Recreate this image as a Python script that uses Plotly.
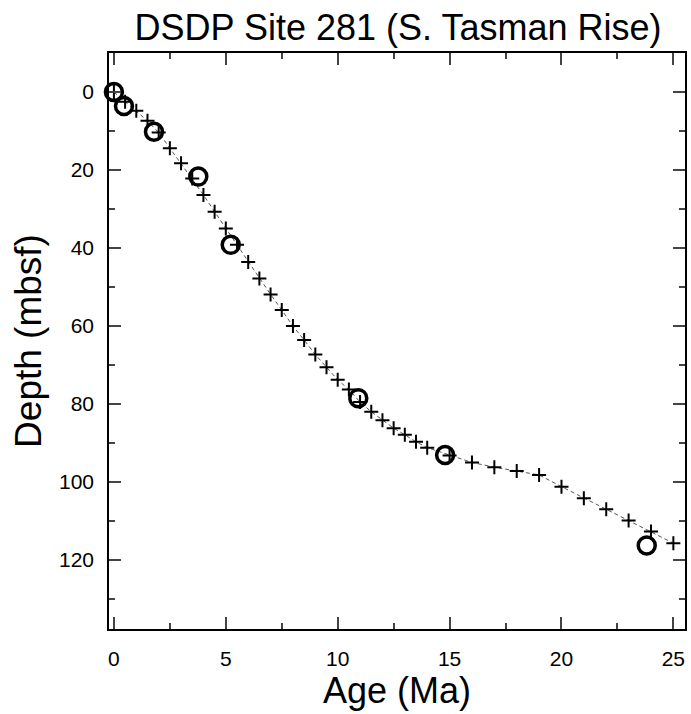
import plotly.graph_objects as go

# Age model points (plus markers) - Age (Ma) and Depth (mbsf)
model_age = [0, 0.5, 1, 1.5, 2, 2.5, 3, 3.5, 4, 4.5, 5, 5.5, 6, 6.5, 7, 7.5, 8, 8.5,
             9, 9.5, 10, 10.5, 11, 11.5, 12, 12.5, 13, 13.5, 14, 15, 16, 17, 18, 19,
             20, 21, 22, 23, 24, 25]
model_depth = [0, 2.5, 4.8, 7.4, 10.4, 14.4, 18.3, 22.2, 26.4, 30.7, 35.0, 39.2, 43.6,
               47.8, 51.9, 55.9, 60.0, 63.6, 67.3, 70.6, 73.8, 76.3, 79.5, 82.0, 84.2,
               86.2, 87.9, 89.7, 91.2, 93.2, 95.0, 96.2, 97.2, 98.2, 101.2, 104.2,
               107.0, 109.9, 112.7, 115.7]

# Datums (open circles)
datum_age = [0.0, 0.45, 1.79, 3.77, 5.22, 10.92, 14.8, 23.81]
datum_depth = [0.0, 3.6, 10.2, 21.7, 39.2, 78.5, 93.1, 116.3]

title_text = "DSDP Site 281 (S. Tasman Rise)"
x_title = "Age (Ma)"
y_title = "Depth (mbsf)"
x_ticks = [0, 5, 10, 15, 20, 25]
y_ticks = [0, 20, 40, 60, 80, 100, 120]

FONT = "Liberation Sans, Arial, Helvetica, sans-serif"

fig = go.Figure()
fig.add_trace(go.Scatter(
    x=model_age, y=model_depth, mode="lines+markers",
    line=dict(color="#555555", width=1, dash="4px,3px"),
    marker=dict(symbol="cross-thin", size=10, line=dict(color="black", width=2)),
    showlegend=False, cliponaxis=False,
))
fig.add_trace(go.Scatter(
    x=datum_age, y=datum_depth, mode="markers",
    marker=dict(symbol="circle-open", size=17, color="black", line=dict(color="black", width=3.5)),
    showlegend=False, cliponaxis=False,
))

axis_common = dict(
    showline=True, linecolor="black", linewidth=1.5, mirror="ticks",
    ticks="inside", ticklen=12, tickwidth=1.5, tickcolor="#444444",
    showgrid=False, zeroline=False, automargin=False,
    tickfont=dict(family=FONT, size=21, color="black"),
)

fig.update_layout(
    width=691, height=714,
    margin=dict(l=109, r=6, t=53, b=85),
    paper_bgcolor="white", plot_bgcolor="white",
    title=dict(text=title_text, x=0.576, xanchor="center", y=0.962, yanchor="middle",
               font=dict(family=FONT, size=36, color="black")),
    xaxis=dict(
        range=[-0.22, 25.52], tickvals=x_ticks, ticktext=[str(v) for v in x_ticks],
        title=dict(text=x_title, font=dict(family=FONT, size=36, color="black"), standoff=4),
        minor=dict(dtick=2.5, ticks="inside", ticklen=6, tickwidth=1.5, tickcolor="#444444"),
        ticklabelstandoff=10,
        **axis_common,
    ),
    yaxis=dict(
        range=[137.7, -10], tickvals=y_ticks, ticktext=[str(v) for v in y_ticks],
        title=dict(text=y_title, font=dict(family=FONT, size=37, color="black"), standoff=6),
        minor=dict(dtick=10, tick0=0, ticks="inside", ticklen=6, tickwidth=1.5, tickcolor="#444444"),
        ticklabelstandoff=9,
        **axis_common,
    ),
)

fig.write_html("out.html", config={"displayModeBar": False},
               post_script="document.body.style.margin='0';")
